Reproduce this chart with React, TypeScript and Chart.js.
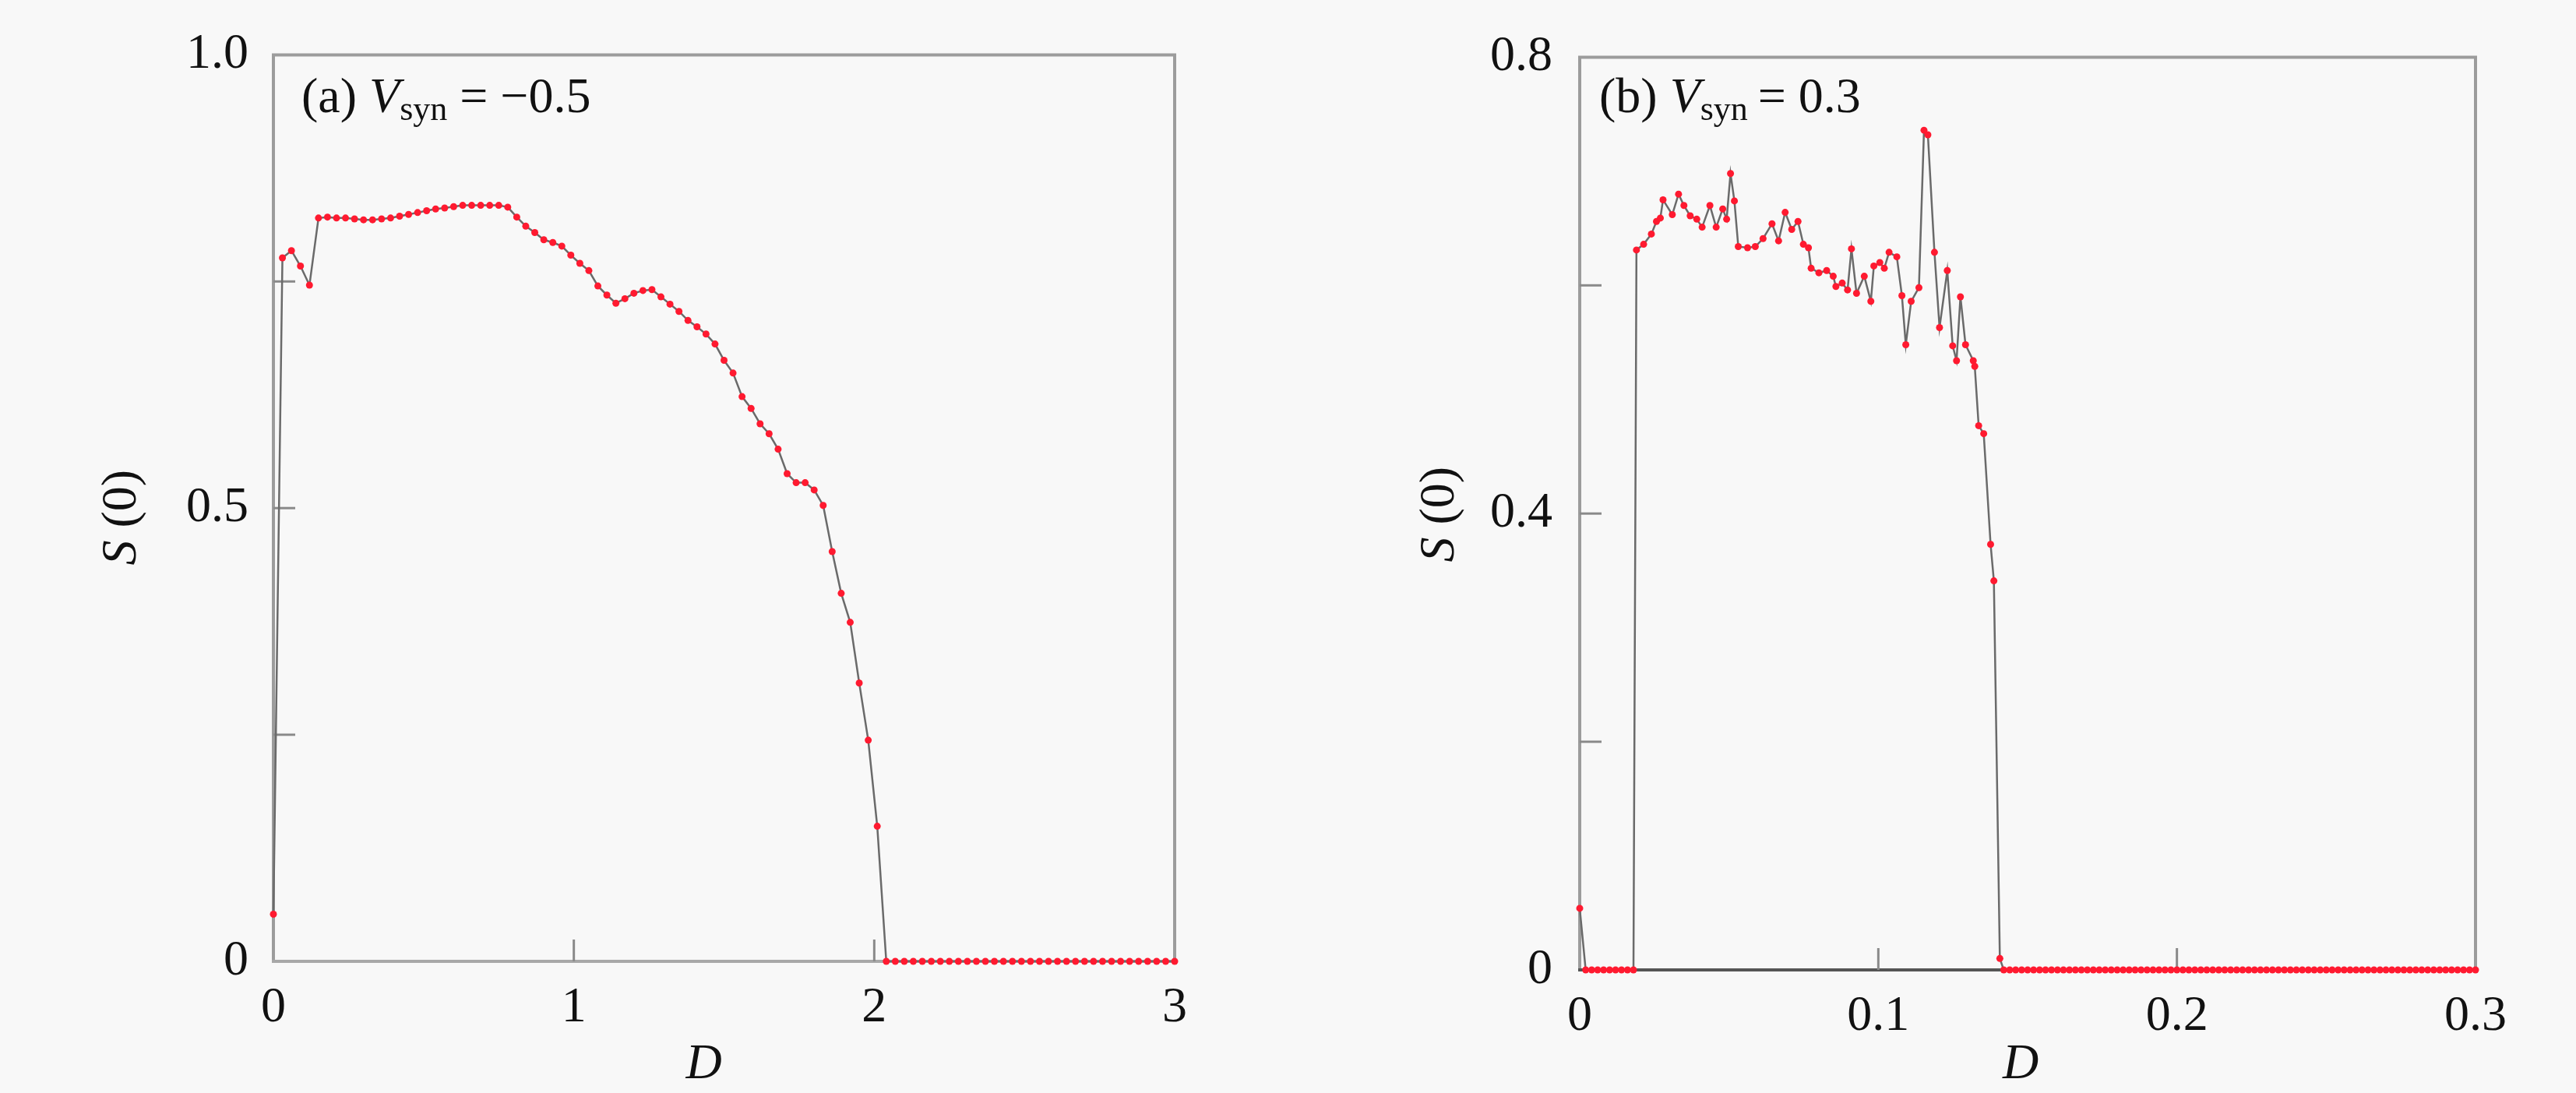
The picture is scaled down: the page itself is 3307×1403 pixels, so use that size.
import React, { useEffect, useRef } from "react";
import { Chart, registerables } from "chart.js";

Chart.register(...registerables);

// ---------------- Panel (a): V_syn = -0.5 ----------------
const dA = [
  0, 0.03, 0.06, 0.09, 0.12, 0.15, 0.18, 0.21, 0.24, 0.27, 0.3, 0.33, 0.36, 0.39, 0.42, 0.45, 0.48, 0.51, 0.54,
  0.57, 0.6, 0.63, 0.66, 0.69, 0.72, 0.75, 0.78, 0.81, 0.84, 0.87, 0.9, 0.93, 0.96, 0.99, 1.02, 1.05, 1.08, 1.11,
  1.14, 1.17, 1.2, 1.23, 1.26, 1.29, 1.32, 1.35, 1.38, 1.41, 1.44, 1.47, 1.5, 1.53, 1.56, 1.59, 1.62, 1.65, 1.68,
  1.71, 1.74, 1.77, 1.8, 1.83, 1.86, 1.89, 1.92, 1.95, 1.98, 2.01, 2.04, 2.07, 2.1, 2.13, 2.16, 2.19, 2.22, 2.25,
  2.28, 2.31, 2.34, 2.37, 2.4, 2.43, 2.46, 2.49, 2.52, 2.55, 2.58, 2.61, 2.64, 2.67, 2.7, 2.73, 2.76, 2.79, 2.82,
  2.85, 2.88, 2.91, 2.94, 2.97, 3.0,
];
const sA = [
  0.052, 0.776, 0.784, 0.767, 0.746, 0.82, 0.821, 0.82, 0.82, 0.819, 0.818, 0.818, 0.819, 0.82, 0.822, 0.824, 0.826,
  0.828, 0.83, 0.831, 0.8325, 0.834, 0.834, 0.834, 0.834, 0.834, 0.832, 0.821, 0.811, 0.804, 0.796, 0.793, 0.789,
  0.779, 0.77, 0.762, 0.745, 0.735, 0.726, 0.731, 0.737, 0.74, 0.741, 0.733, 0.725, 0.717, 0.707, 0.7, 0.692, 0.681,
  0.663, 0.649, 0.623, 0.61, 0.593, 0.582, 0.565, 0.538, 0.528, 0.528, 0.52, 0.503, 0.452, 0.406, 0.374, 0.307,
  0.244, 0.149, 0, 0, 0, 0, 0, 0, 0, 0, 0, 0, 0, 0, 0, 0, 0, 0, 0, 0, 0, 0, 0, 0, 0, 0, 0, 0, 0, 0, 0, 0, 0, 0, 0,
];
const xTickValsA = [0, 1, 2, 3];
const xTickLabelsA = ["0", "1", "2", "3"];
const yTickValsA = [0, 0.5, 1];
const yTickLabelsA = ["0", "0.5", "1.0"];
const xInnerTicksA = [1, 2];
const yInnerTicksA = [0.25, 0.5, 0.75];

// ---------------- Panel (b): V_syn = 0.3 ----------------
const dB = [
  0, 0.002, 0.004, 0.006, 0.008, 0.01, 0.012, 0.014, 0.016, 0.018, 0.019, 0.0214, 0.024, 0.0257, 0.027, 0.0279,
  0.031, 0.0331, 0.0349, 0.037, 0.0392, 0.041, 0.0436, 0.0457, 0.0479, 0.0492, 0.0505, 0.0518, 0.0531, 0.0562,
  0.0588, 0.0614, 0.0644, 0.0666, 0.0688, 0.071, 0.0731, 0.0749, 0.0766, 0.0775, 0.0801, 0.0827, 0.0849, 0.0858,
  0.0879, 0.0897, 0.091, 0.0927, 0.0953, 0.0975, 0.0985, 0.1005, 0.102, 0.1036, 0.1062, 0.1079, 0.1092, 0.111,
  0.1136, 0.1153, 0.1166, 0.1188, 0.1205, 0.1231, 0.1249, 0.1262, 0.1275, 0.1292, 0.1318, 0.1323, 0.1336, 0.1353,
  0.1376, 0.1387, 0.1407, 0.142, 0.144, 0.146, 0.148, 0.15, 0.152, 0.154, 0.156, 0.158, 0.16, 0.162, 0.164, 0.166,
  0.168, 0.17, 0.172, 0.174, 0.176, 0.178, 0.18, 0.182, 0.184, 0.186, 0.188, 0.19, 0.192, 0.194, 0.196, 0.198, 0.2,
  0.202, 0.204, 0.206, 0.208, 0.21, 0.212, 0.214, 0.216, 0.218, 0.22, 0.222, 0.224, 0.226, 0.228, 0.23, 0.232,
  0.234, 0.236, 0.238, 0.24, 0.242, 0.244, 0.246, 0.248, 0.25, 0.252, 0.254, 0.256, 0.258, 0.26, 0.262, 0.264,
  0.266, 0.268, 0.27, 0.272, 0.274, 0.276, 0.278, 0.28, 0.282, 0.284, 0.286, 0.288, 0.29, 0.292, 0.294, 0.296,
  0.298, 0.3,
];
const sB = [
  0.054, 0, 0, 0, 0, 0, 0, 0, 0, 0, 0.631, 0.636, 0.645, 0.656, 0.659, 0.675, 0.662, 0.68, 0.67, 0.661, 0.658, 0.651,
  0.67, 0.651, 0.667, 0.658, 0.698, 0.674, 0.634, 0.633, 0.634, 0.641, 0.654, 0.639, 0.664, 0.649, 0.656, 0.636,
  0.633, 0.615, 0.611, 0.613, 0.608, 0.599, 0.602, 0.596, 0.632, 0.593, 0.608, 0.586, 0.617, 0.62, 0.615, 0.629,
  0.625, 0.591, 0.548, 0.586, 0.598, 0.736, 0.732, 0.629, 0.563, 0.613, 0.547, 0.534, 0.59, 0.548, 0.534, 0.529,
  0.477, 0.47, 0.373, 0.341, 0.01, 0, 0, 0, 0, 0, 0, 0, 0, 0, 0, 0, 0, 0, 0, 0, 0, 0, 0, 0, 0, 0, 0, 0, 0, 0, 0, 0,
  0, 0, 0, 0, 0, 0, 0, 0, 0, 0, 0, 0, 0, 0, 0, 0, 0, 0, 0, 0, 0, 0, 0, 0, 0, 0, 0, 0, 0, 0, 0, 0, 0, 0, 0, 0, 0, 0,
  0, 0, 0, 0, 0, 0, 0, 0, 0, 0, 0, 0, 0, 0, 0, 0,
];
const xTickValsB = [0, 0.1, 0.2, 0.3];
const xTickLabelsB = ["0", "0.1", "0.2", "0.3"];
const yTickValsB = [0, 0.4, 0.8];
const yTickLabelsB = ["0", "0.4", "0.8"];
const xInnerTicksB = [0.1, 0.2];
const yInnerTicksB = [0.2, 0.4, 0.6];

const SERIF = "'Liberation Serif', 'Times New Roman', serif";
const BG = "#f8f8f8";

type Seg = { text: string; font: string; dy?: number };

function drawSegs(ctx: CanvasRenderingContext2D, segs: Seg[], x: number, y: number, align: "left" | "center") {
  let total = 0;
  const widths = segs.map((s) => {
    ctx.font = s.font;
    const w = ctx.measureText(s.text).width;
    total += w;
    return w;
  });
  let cx = align === "center" ? x - total / 2 : x;
  ctx.textAlign = "left";
  ctx.textBaseline = "alphabetic";
  segs.forEach((s, i) => {
    ctx.font = s.font;
    ctx.fillText(s.text, cx, y + (s.dy || 0));
    cx += widths[i];
  });
}

type PanelCfg = {
  width: number;
  d: number[];
  s: number[];
  xMax: number;
  yMax: number;
  xTickVals: number[];
  xTickLabels: string[];
  yTickVals: number[];
  yTickLabels: string[];
  xInner: number[];
  yInner: number[];
  pad: { top: number; right: number };
  yWidth: number;
  xHeight: number;
  yLabelPad: number;
  xLabelPad: number;
  bottomColor: string;
  yTitle: { dx: number; dy: number };
  xTitle: { dx: number; y: number };
  note: { x: number; y: number; pre: string; post: string };
};

function Panel({ cfg }: { cfg: PanelCfg }) {
  const ref = useRef<HTMLCanvasElement | null>(null);
  useEffect(() => {
    const canvas = ref.current;
    if (!canvas) return;
    const frame = {
      id: "frameTicks",
      beforeDatasetsDraw(chart: any) {
        const { ctx, chartArea: a, scales } = chart;
        ctx.save();
        ctx.lineWidth = 4;
        ctx.strokeStyle = "#9c9c9c";
        ctx.beginPath();
        ctx.moveTo(a.left, a.bottom);
        ctx.lineTo(a.left, a.top);
        ctx.lineTo(a.right, a.top);
        ctx.lineTo(a.right, a.bottom);
        ctx.stroke();
        ctx.strokeStyle = cfg.bottomColor;
        ctx.beginPath();
        ctx.moveTo(a.left - 2, a.bottom);
        ctx.lineTo(a.right + 2, a.bottom);
        ctx.stroke();
        ctx.lineWidth = 3;
        ctx.strokeStyle = "#8a8a8a";
        cfg.xInner.forEach((v) => {
          const px = scales.x.getPixelForValue(v);
          ctx.beginPath();
          ctx.moveTo(px, a.bottom);
          ctx.lineTo(px, a.bottom - 28);
          ctx.stroke();
        });
        cfg.yInner.forEach((v) => {
          const py = scales.y.getPixelForValue(v);
          ctx.beginPath();
          ctx.moveTo(a.left, py);
          ctx.lineTo(a.left + 28, py);
          ctx.stroke();
        });
        ctx.restore();
      },
      afterDraw(chart: any) {
        const { ctx, chartArea: a } = chart;
        ctx.save();
        ctx.fillStyle = "#111";
        ctx.save();
        ctx.translate(a.left - cfg.yTitle.dx, (a.top + a.bottom) / 2 + cfg.yTitle.dy);
        ctx.rotate(-Math.PI / 2);
        drawSegs(
          ctx,
          [
            { text: "S", font: `italic 64px ${SERIF}` },
            { text: " (0)", font: `64px ${SERIF}` },
          ],
          0,
          0,
          "center"
        );
        ctx.restore();
        drawSegs(ctx, [{ text: "D", font: `italic 64px ${SERIF}` }], (a.left + a.right) / 2 + cfg.xTitle.dx, cfg.xTitle.y, "center");
        drawSegs(
          ctx,
          [
            { text: cfg.note.pre, font: `64px ${SERIF}` },
            { text: "V", font: `italic 64px ${SERIF}` },
            { text: "syn", font: `44px ${SERIF}`, dy: 10 },
            { text: cfg.note.post, font: `64px ${SERIF}` },
          ],
          cfg.note.x,
          cfg.note.y,
          "left"
        );
        ctx.restore();
      },
    };

    const chart = new Chart(canvas, {
      type: "line",
      data: {
        datasets: [
          {
            data: cfg.d.map((x, i) => ({ x, y: cfg.s[i] })),
            borderColor: "#6a6a6a",
            borderWidth: 2.5,
            pointRadius: 4.5,
            pointBackgroundColor: "#ff1a30",
            pointBorderWidth: 0,
            pointBorderColor: "#ff1a30",
            tension: 0,
            clip: false as any,
          } as any,
        ],
      },
      options: {
        responsive: false,
        maintainAspectRatio: false,
        animation: false,
        devicePixelRatio: 1,
        events: [],
        layout: { padding: { left: 0, top: cfg.pad.top, right: cfg.pad.right, bottom: 0 } },
        plugins: { legend: { display: false }, tooltip: { enabled: false } },
        scales: {
          x: {
            type: "linear",
            min: 0,
            max: cfg.xMax,
            grid: { display: false, drawTicks: false },
            border: { display: false },
            afterBuildTicks: (sc: any) => {
              sc.ticks = cfg.xTickVals.map((v) => ({ value: v }));
            },
            afterFit: (sc: any) => {
              sc.height = cfg.xHeight;
            },
            ticks: {
              autoSkip: false,
              maxRotation: 0,
              padding: cfg.xLabelPad,
              color: "#111",
              font: { family: SERIF, size: 64 },
              callback: (_v: any, i: number) => cfg.xTickLabels[i],
            },
          },
          y: {
            type: "linear",
            min: 0,
            max: cfg.yMax,
            grid: { display: false, drawTicks: false },
            border: { display: false },
            afterBuildTicks: (sc: any) => {
              sc.ticks = cfg.yTickVals.map((v) => ({ value: v }));
            },
            afterFit: (sc: any) => {
              sc.width = cfg.yWidth;
            },
            ticks: {
              autoSkip: false,
              padding: cfg.yLabelPad,
              color: "#111",
              font: { family: SERIF, size: 64 },
              callback: (_v: any, i: number) => cfg.yTickLabels[i],
            },
          },
        },
      } as any,
      plugins: [frame],
    });
    return () => chart.destroy();
  }, [cfg]);
  return <canvas ref={ref} width={cfg.width} height={1403} style={{ display: "block", width: cfg.width, height: 1403 }} />;
}

const cfgA: PanelCfg = {
  width: 1650,
  d: dA,
  s: sA,
  xMax: 3,
  yMax: 1,
  xTickVals: xTickValsA,
  xTickLabels: xTickLabelsA,
  yTickVals: yTickValsA,
  yTickLabels: yTickLabelsA,
  xInner: xInnerTicksA,
  yInner: yInnerTicksA,
  pad: { top: 56, right: 142 },
  yWidth: 351,
  xHeight: 169,
  yLabelPad: 32,
  xLabelPad: 22,
  bottomColor: "#a8a8a8",
  yTitle: { dx: 177, dy: 12 },
  xTitle: { dx: -26, y: 1384 },
  note: { x: 387, y: 144, pre: "(a) ", post: " = \u22120.5" },
};

const cfgB: PanelCfg = {
  width: 1657,
  d: dB,
  s: sB,
  xMax: 0.3,
  yMax: 0.8,
  xTickVals: xTickValsB,
  xTickLabels: xTickLabelsB,
  yTickVals: yTickValsB,
  yTickLabels: yTickLabelsB,
  xInner: xInnerTicksB,
  yInner: yInnerTicksB,
  pad: { top: 68, right: 129 },
  yWidth: 378,
  xHeight: 158,
  yLabelPad: 35,
  xLabelPad: 22,
  bottomColor: "#555555",
  yTitle: { dx: 162, dy: 1 },
  xTitle: { dx: -9, y: 1384 },
  note: { x: 403, y: 144, pre: "(b) ", post: "\u2009= 0.3" },
};

export default function App() {
  useEffect(() => {
    document.body.style.margin = "0";
    document.body.style.background = BG;
  }, []);
  return (
    <div style={{ display: "flex", width: 3307, height: 1403, background: BG }}>
      <Panel cfg={cfgA} />
      <Panel cfg={cfgB} />
    </div>
  );
}
